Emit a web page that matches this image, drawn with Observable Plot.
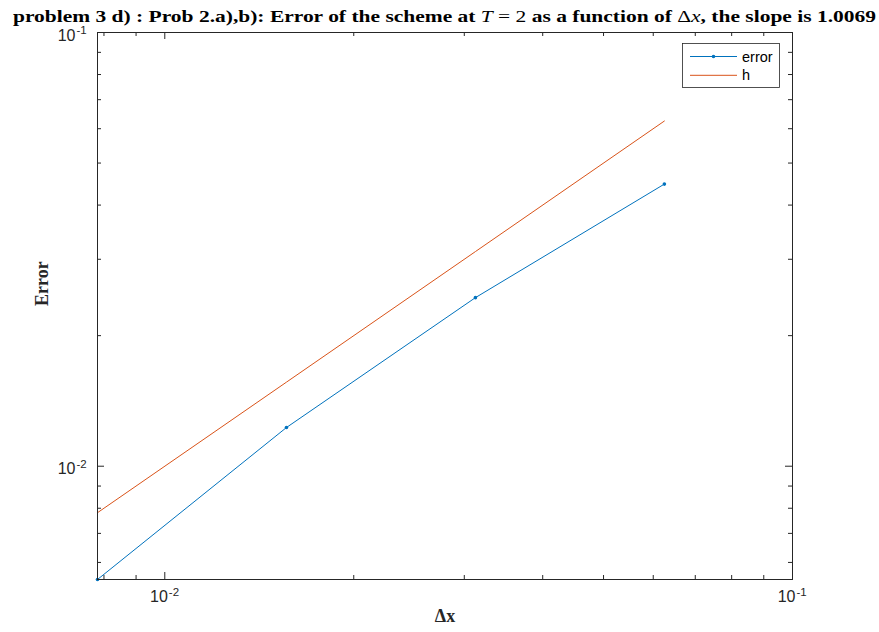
<!DOCTYPE html>
<html>
<head>
<meta charset="utf-8">
<script src="https://cdn.jsdelivr.net/npm/d3@7"></script>
<script src="https://cdn.jsdelivr.net/npm/@observablehq/plot@0.6"></script>
<style>
  html, body { margin: 0; padding: 0; background: #fff; }
  #chart svg { display: block; }
</style>
</head>
<body>
<div id="chart"></div>
<script>
// ---- data ----
const dx = [1/128, 1/64, 1/32, 1/16];
const errorValues = [0.00548, 0.01228, 0.02447, 0.04472];
const hValues = [1/128, 1/64, 1/32, 1/16];

const xMajor = [0.01, 0.1];
const xMinor = [0.008, 0.009, 0.02, 0.03, 0.04, 0.05, 0.06, 0.07, 0.08, 0.09];
const yMajor = [0.01, 0.1];
const yMinor = [0.006, 0.007, 0.008, 0.009, 0.02, 0.03, 0.04, 0.05, 0.06, 0.07, 0.08, 0.09];
const xTickExp = ["-2", "-1"];
const yTickExp = ["-2", "-1"];

const seriesNames = ["error", "h"];
const titleParts = [
  {t: "problem 3 d) : Prob 2.a),b): Error of the scheme at ", w: "bold", s: "normal"},
  {t: "T", w: "normal", s: "italic"},
  {t: " = 2 ", w: "normal", s: "normal"},
  {t: "as a function of ", w: "bold", s: "normal"},
  {t: "\u0394", w: "normal", s: "normal"},
  {t: "x", w: "normal", s: "italic"},
  {t: ", the slope is 1.0069", w: "bold", s: "normal"}
];
const xLabel = "\u0394x";
const yLabel = "Error";

// ---- layout ----
const W = 879, H = 632;
const mL = 97, mR = 87, mT = 32, mB = 53;
const FW = W - mL - mR, FH = H - mT - mB;
const axisColor = "#262626";
const blue = "#0072BD", orange = "#D95319";
const sans = "Liberation Sans, Arial, Helvetica, sans-serif";
const serif = "Liberation Serif, Times New Roman, serif";

const errData = dx.map((d, i) => ({dx: d, v: errorValues[i]}));
const hData = dx.map((d, i) => ({dx: d, v: hValues[i]}));

const chart = Plot.plot({
  width: W, height: H,
  marginLeft: mL, marginRight: mR, marginTop: mT, marginBottom: mB,
  x: {type: "log", domain: [1/128, 0.1], axis: null},
  y: {type: "log", domain: [0.00548, 0.1], axis: null},
  style: {background: "white", overflow: "visible"},
  marks: [
    Plot.line(hData, {x: "dx", y: "v", stroke: orange, strokeWidth: 1}),
    Plot.line(errData, {x: "dx", y: "v", stroke: blue, strokeWidth: 1}),
    Plot.dot(errData, {x: "dx", y: "v", r: 1.8, fill: blue, stroke: null}),
    // ticks (inward, all four sides)
    Plot.tickX(xMajor, {x: d => d, insetTop: FH - 7, stroke: axisColor}),
    Plot.tickX(xMajor, {x: d => d, insetBottom: FH - 7, stroke: axisColor}),
    Plot.tickX(xMinor, {x: d => d, insetTop: FH - 4, stroke: axisColor}),
    Plot.tickX(xMinor, {x: d => d, insetBottom: FH - 4, stroke: axisColor}),
    Plot.tickY(yMajor, {y: d => d, insetRight: FW - 7, stroke: axisColor}),
    Plot.tickY(yMajor, {y: d => d, insetLeft: FW - 7, stroke: axisColor}),
    Plot.tickY(yMinor, {y: d => d, insetRight: FW - 4, stroke: axisColor}),
    Plot.tickY(yMinor, {y: d => d, insetLeft: FW - 4, stroke: axisColor}),
    Plot.frame({stroke: axisColor, strokeWidth: 1}),
    // x tick labels
    Plot.text(xMajor, {x: d => d, frameAnchor: "bottom", dy: 22, dx: 3, text: () => "10",
      textAnchor: "end", fontSize: 16, fontFamily: sans, fill: axisColor}),
    Plot.text(xMajor, {x: d => d, frameAnchor: "bottom", dy: 16, dx: 4, text: (d, i) => xTickExp[i],
      textAnchor: "start", fontSize: 11.5, fontFamily: sans, fill: axisColor}),
    // y tick labels
    Plot.text(yMajor, {y: d => d, frameAnchor: "left", dx: -22, dy: 3, text: () => "10",
      textAnchor: "end", fontSize: 16, fontFamily: sans, fill: axisColor}),
    Plot.text(yMajor, {y: d => d, frameAnchor: "left", dx: -21, dy: -2, text: (d, i) => yTickExp[i],
      textAnchor: "start", fontSize: 11.5, fontFamily: sans, fill: axisColor}),
    // axis labels
    Plot.text([xLabel], {frameAnchor: "bottom", dy: 42, text: d => d, fontSize: 18,
      fontWeight: "bold", fontFamily: serif, fill: axisColor}),
    Plot.text([yLabel], {frameAnchor: "left", dx: -55, rotate: -90, text: d => d, fontSize: 18,
      fontWeight: "bold", fontFamily: serif, fill: axisColor})
  ]
});
document.getElementById("chart").appendChild(chart);

// ---- title ----
const svg = d3.select(chart);
const title = svg.append("text")
  .attr("x", mL + FW / 2).attr("y", 22)
  .attr("text-anchor", "middle")
  .attr("font-family", serif).attr("font-size", 16).attr("fill", "#000")
  .attr("textLength", 863).attr("lengthAdjust", "spacingAndGlyphs");
titleParts.forEach(p => {
  title.append("tspan").attr("font-weight", p.w).attr("font-style", p.s).text(p.t);
});

// ---- legend ----
const lg = svg.append("g").attr("font-family", sans).attr("font-size", 14.5)
  .attr("text-anchor", "start");
lg.append("rect").attr("x", 682.5).attr("y", 43.5).attr("width", 97).attr("height", 44)
  .attr("fill", "white").attr("stroke", axisColor).attr("stroke-width", 0.8);
const colors = [blue, orange];
seriesNames.forEach((name, i) => {
  const yy = 56.5 + i * 18.8;
  lg.append("line").attr("x1", 690).attr("x2", 737).attr("y1", yy).attr("y2", yy)
    .attr("stroke", colors[i]).attr("stroke-width", 1);
  if (i === 0) lg.append("circle").attr("cx", 713.5).attr("cy", yy).attr("r", 1.8).attr("fill", blue);
  lg.append("text").attr("x", 742).attr("y", yy).attr("dy", "0.35em")
    .attr("text-anchor", "start").attr("fill", "#000").text(name);
});
</script>
</body>
</html>
